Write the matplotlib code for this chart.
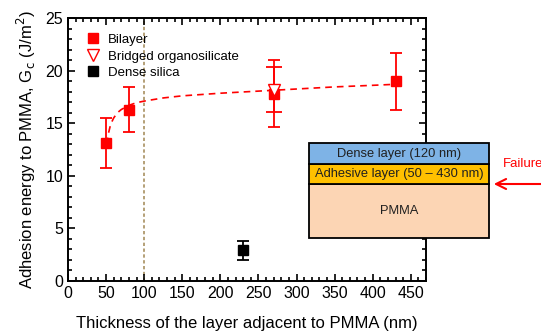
import matplotlib
matplotlib.use("Agg")
import matplotlib.pyplot as plt
from matplotlib.patches import Rectangle
from matplotlib.ticker import MultipleLocator

plt.rcParams['font.family'] = ['Liberation Sans', 'DejaVu Sans']

# data
bi_x = [50, 80, 270, 430]
bi_y = [13.1, 16.3, 17.8, 19.0]
bi_err = [2.4, 2.1, 3.2, 2.7]

org_x = [270]
org_y = [18.2]
org_err = [2.1]

ds_x = [230]
ds_y = [2.9]
ds_err = [0.9]

fit_x = [51, 53, 56, 60, 65, 70, 80, 90, 100, 125, 150, 200, 250, 300, 350, 400, 430]
fit_y = [13.0, 14.0, 14.9, 15.5, 16.0, 16.3, 16.7, 16.95, 17.1, 17.4, 17.6, 17.85, 18.05, 18.25, 18.45, 18.6, 18.7]

layers = ["PMMA", "Adhesive layer (50 \u2013 430 nm)", "Dense layer (120 nm)"]
layer_h = [54, 20, 21]  # pixel heights in the sketch
layer_c = ["#fcd5b4", "#ffc000", "#7eb3e6"]

fig = plt.figure(figsize=(5.41, 3.34), dpi=100)
ax = fig.add_axes([0.1257, 0.159, 0.6617, 0.787])

red = "#ff0000"
ax.plot(fit_x, fit_y, '--', color=red, lw=1.2, dashes=(4, 3), zorder=2)
ax.axvline(100, color="#a89060", lw=1.2, ls=(0, (2, 1.5)), zorder=1)

ax.errorbar(bi_x, bi_y, yerr=bi_err, fmt='s', color=red, ms=7, capsize=4,
            elinewidth=1.3, capthick=1.3, label="Bilayer", zorder=3)
ax.errorbar(org_x, org_y, yerr=org_err, fmt='v', mfc='white', mec=red, color=red,
            ms=8, capsize=6, elinewidth=1.3, capthick=1.3,
            label="Bridged organosilicate", zorder=4)
ax.errorbar(ds_x, ds_y, yerr=ds_err, fmt='s', color='black', ms=7, capsize=4,
            elinewidth=1.3, capthick=1.3, label="Dense silica", zorder=3)

ax.set_xlim(0, 470)
ax.set_ylim(0, 25)
ax.xaxis.set_major_locator(MultipleLocator(50))
ax.xaxis.set_minor_locator(MultipleLocator(10))
ax.yaxis.set_major_locator(MultipleLocator(5))
ax.yaxis.set_minor_locator(MultipleLocator(1))
ax.tick_params(which='both', direction='in', top=True, right=True, width=1.2,
               labelsize=11.5)
ax.tick_params(which='major', length=5)
ax.tick_params(which='minor', length=3)
for s in ax.spines.values():
    s.set_linewidth(1.4)

ax.set_xlabel("Thickness of the layer adjacent to PMMA (nm)", fontsize=12, labelpad=11)
ax.set_ylabel("Adhesion energy to PMMA, G$_\\mathrm{c}$ (J/m$^2$)", fontsize=12,
              labelpad=5)

h, l = ax.get_legend_handles_labels()
h = [x[0] for x in h]
ax.legend(h, l, loc='upper left', frameon=False, fontsize=9.5,
          handletextpad=0.5, borderaxespad=0.5, labelspacing=0.32,
          bbox_to_anchor=(0.015, 0.985), handlelength=1.2)

# layer stack sketch in figure pixels
x0, x1 = 309, 489
ybot = 238
for name, hh, c in zip(layers, layer_h, layer_c):
    r = Rectangle((x0 / 541, 1 - ybot / 334), (x1 - x0) / 541, hh / 334,
                  transform=fig.transFigure, fc=c, ec='black', lw=1.3, zorder=5)
    fig.add_artist(r)
    fig.text((x0 + x1) / 2 / 541, 1 - (ybot - hh / 2) / 334, name,
             ha='center', va='center', fontsize=9.3, color='#202020', zorder=6)
    ybot -= hh

# "Failure" runs off the right edge in the reference as well
fig.text(503 / 541, 1 - 164 / 334, "Failure", color=red, fontsize=9.5, va='center')
ax.annotate("", xy=(491 / 541, 1 - 184 / 334), xytext=(545 / 541, 1 - 184 / 334),
            xycoords='figure fraction', textcoords='figure fraction',
            arrowprops=dict(arrowstyle='->', color=red, lw=1.5, mutation_scale=18))

fig.savefig("out.png", dpi=100)
